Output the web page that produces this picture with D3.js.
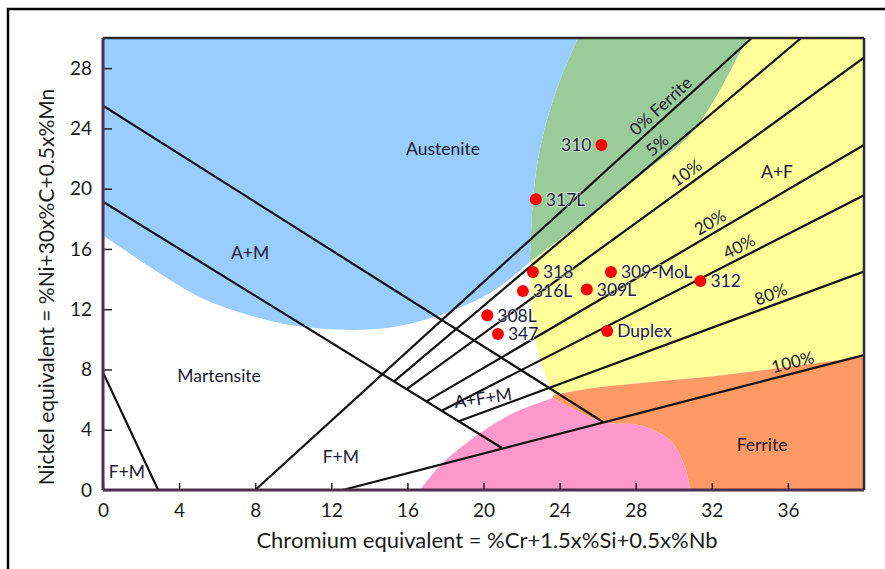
<!DOCTYPE html>
<html>
<head>
<meta charset="utf-8">
<script src="https://cdn.jsdelivr.net/npm/d3@7"></script>
<style>
  body { margin: 0; background: #fff; }
  text { font-family: Lato, "Open Sans", sans-serif; }
</style>
</head>
<body>
<svg id="chart" width="885" height="569"></svg>
<script>
// ---- Axis ticks ----
const crTicks = [0, 4, 8, 12, 16, 20, 24, 28, 32, 36];
const niTicks = [0, 4, 8, 12, 16, 20, 24, 28];

// ---- Phase field boundaries, [Cr eq, Ni eq] ----
const austeniteLower = [[0, 16.9], [2.47, 14.8], [5.1, 12.8], [7.7, 11.6], [10.35, 10.85], [14.5, 10.7], [17.7, 11.6], [20.5, 13.2], [22.44, 15.13]];
const ferriteZeroEdge = [[22.44, 15.13], [22.6, 19.25], [22.86, 21.9], [23.33, 24.55], [24.02, 27.2], [24.96, 30]];
const duplexEdge = [[22.44, 15.13], [24.28, 16.92], [26.64, 19.24], [28.74, 21.37], [30.85, 23.56], [32.43, 26.55], [33.85, 30]];
const afLeftEdge = [[22.44, 15.13], [22.5, 12.5], [22.7, 10.0], [23.1, 8.2], [23.65, 6.3]];
const ferriteTop = [[23.65, 6.3], [26.0, 6.8], [32.4, 7.6], [40, 8.85]];
const fmTop = [[16.66, 0], [17.7, 1.6], [19.3, 3.3], [21.4, 5.0], [23.65, 6.1]];
const fmRight = [[23.65, 6.1], [26.3, 4.5], [28.2, 4.3], [29.8, 3.3], [30.6, 1.5], [30.85, 0]];

// ---- Straight boundary lines ----
const upperAM = [[0, 25.5], [26.3, 4.5]];
const lowerAM = [[0, 19.13], [20.97, 2.79]];
const cornerFM = [[0, 7.8], [2.9, 0]];

// ---- Ferrite iso-lines ----
const ferriteNames = ["0% Ferrite", "5%", "10%", "20%", "40%", "80%", "100%"];
const ferriteStartCr = [8, 15.3, 15.96, 17.0, 17.8, 18.7, 12.6];
const ferriteStartNi = [0, 7.21, 6.69, 5.88, 5.26, 4.56, 0];
const ferriteEndCr = [34.1, 36.7, 40, 40, 40, 40, 40];
const ferriteEndNi = [30, 30, 28.7, 22.9, 19.57, 14.5, 8.96];
const ferriteLabelCr = [29.7, 29.5, 31.0, 32.2, 33.7, 35.3, 36.4];

// ---- Filler metals ----
const alloyNames = ["310", "317L", "318", "316L", "309L", "309-MoL", "308L", "347", "Duplex", "312"];
const alloyCr = [26.2, 22.75, 22.6, 22.07, 25.43, 26.7, 20.2, 20.76, 26.5, 31.4];
const alloyNi = [22.9, 19.3, 14.47, 13.2, 13.3, 14.47, 11.6, 10.35, 10.55, 13.87];
const alloyLabelSide = ["left", "right", "right", "right", "right", "right", "right", "right", "right", "right"];

// ---- Field names ----
const fieldNames = ["Austenite", "A+M", "Martensite", "F+M", "F+M", "A+F+M", "A+F", "Ferrite"];
const fieldCr = [17.87, 7.73, 6.1, 1.26, 12.5, 19.97, 35.43, 34.64];
const fieldNi = [22.63, 15.73, 7.56, 1.2, 2.2, 6.1, 21.1, 2.99];

const svg = d3.select("#chart");
const x = d3.scaleLinear().domain([0, 40]).range([103, 864]);
const y = d3.scaleLinear().domain([0, 30]).range([490, 38]);

svg.append("defs").append("clipPath").attr("id", "plotClip")
  .append("rect").attr("x", x(0)).attr("y", y(30)).attr("width", x(40) - x(0)).attr("height", y(0) - y(30));

const plot = svg.append("g").attr("clip-path", "url(#plotClip)");

const straight = d3.line().x(d => x(d[0])).y(d => y(d[1]));
const smooth = d3.line().x(d => x(d[0])).y(d => y(d[1])).curve(d3.curveCatmullRom.alpha(0.5));

// joins straight and curved pieces into one closed outline
function outline(parts) {
  let s = "";
  parts.forEach((p, i) => {
    const gen = p.curved ? smooth : straight;
    let seg = gen(p.pts);
    if (i > 0) seg = "L" + seg.slice(1);
    s += seg;
  });
  return s + "Z";
}
const rev = a => a.slice().reverse();

// A+F field
plot.append("path").attr("fill", "#ffff99").attr("d", outline([
  { pts: afLeftEdge, curved: true },
  { pts: ferriteTop, curved: true },
  { pts: [[40, 8.85], [40, 30], [33.85, 30]], curved: false },
  { pts: rev(duplexEdge), curved: true }
]));
// A (ferrite-free) band
plot.append("path").attr("fill", "#99cc99").attr("d", outline([
  { pts: ferriteZeroEdge, curved: true },
  { pts: [[24.96, 30], [33.85, 30]], curved: false },
  { pts: rev(duplexEdge), curved: true }
]));
// Austenite
plot.append("path").attr("fill", "#99ccff").attr("d", outline([
  { pts: [[0, 30], [24.96, 30]], curved: false },
  { pts: rev(ferriteZeroEdge), curved: true },
  { pts: rev(austeniteLower), curved: true }
]));
// Ferrite
plot.append("path").attr("fill", "#ff9966").attr("d", outline([
  { pts: ferriteTop, curved: true },
  { pts: [[40, 8.85], [40, 0], [30.85, 0]], curved: false },
  { pts: rev(fmRight), curved: true }
]));
// F+M
plot.append("path").attr("fill", "#ff99cc").attr("d", outline([
  { pts: fmTop, curved: true },
  { pts: fmRight, curved: true },
  { pts: [[30.85, 0], [16.66, 0]], curved: false }
]));

// boundary lines
const lineStyle = sel => sel.attr("fill", "none").attr("stroke", "#111").attr("stroke-width", 2.2);
[upperAM, lowerAM, cornerFM].forEach(l => plot.append("path").attr("d", straight(l)).call(lineStyle));
ferriteNames.forEach((n, i) => {
  plot.append("path").attr("d", straight([[ferriteStartCr[i], ferriteStartNi[i]], [ferriteEndCr[i], ferriteEndNi[i]]])).call(lineStyle);
});

// iso-line labels
ferriteNames.forEach((n, i) => {
  const t = (ferriteLabelCr[i] - ferriteStartCr[i]) / (ferriteEndCr[i] - ferriteStartCr[i]);
  const ni = ferriteStartNi[i] + t * (ferriteEndNi[i] - ferriteStartNi[i]);
  const px = x(ferriteLabelCr[i]), py = y(ni);
  const ang = Math.atan2(y(ferriteEndNi[i]) - y(ferriteStartNi[i]), x(ferriteEndCr[i]) - x(ferriteStartCr[i])) * 180 / Math.PI;
  svg.append("text").attr("transform", `translate(${px},${py}) rotate(${ang})`)
    .attr("y", -5).attr("text-anchor", "middle").attr("font-size", 17).attr("fill", "#1a1a2e")
    .text(n);
});

// field names
fieldNames.forEach((n, i) => {
  const t = svg.append("text").attr("x", x(fieldCr[i])).attr("y", y(fieldNi[i])).attr("dy", "0.35em")
    .attr("text-anchor", "middle").attr("font-size", 17.5).attr("fill", "#1a1a2e").text(n);
  if (n === "A+F+M") t.attr("transform", `rotate(-8,${x(fieldCr[i])},${y(fieldNi[i])})`);
});

// filler metal points
alloyNames.forEach((n, i) => {
  svg.append("circle").attr("cx", x(alloyCr[i])).attr("cy", y(alloyNi[i])).attr("r", 6).attr("fill", "#ff0000");
  const left = alloyLabelSide[i] === "left";
  svg.append("text").attr("x", x(alloyCr[i]) + (left ? -10 : 10)).attr("y", y(alloyNi[i])).attr("dy", "0.36em")
    .attr("text-anchor", left ? "end" : "start").attr("font-size", 17.5).attr("fill", "#1c1c3a")
    .attr("stroke", "#ffffff").attr("stroke-opacity", 0.55).attr("stroke-width", 2).attr("paint-order", "stroke")
    .text(n);
});

// axes
const xAxis = svg.append("g").attr("transform", `translate(0,${y(0)})`)
  .call(d3.axisBottom(x).tickValues(crTicks).tickSize(-7).tickPadding(14));
const yAxis = svg.append("g").attr("transform", `translate(${x(0)},0)`)
  .call(d3.axisLeft(y).tickValues(niTicks).tickSize(-9).tickPadding(11));
[xAxis, yAxis].forEach(a => {
  a.select(".domain").remove();
  a.selectAll(".tick line").attr("stroke", "#222").attr("stroke-width", 1.5);
  a.selectAll(".tick text").attr("font-size", 19).attr("fill", "#1a1a1a").attr("font-family", "Lato, 'Open Sans', sans-serif");
});

// plot frame
svg.append("line").attr("x1", x(0)).attr("x2", x(40)).attr("y1", y(30)).attr("y2", y(30)).attr("stroke", "#2a2a2a").attr("stroke-width", 2.5);
svg.append("line").attr("x1", x(40)).attr("x2", x(40)).attr("y1", y(30)).attr("y2", y(0)).attr("stroke", "#2a2a2a").attr("stroke-width", 2.5);
svg.append("line").attr("x1", x(0)).attr("x2", x(40)).attr("y1", y(0)).attr("y2", y(0)).attr("stroke", "#4f2f4f").attr("stroke-width", 3);
svg.append("line").attr("x1", x(0)).attr("x2", x(0)).attr("y1", y(30)).attr("y2", y(0)).attr("stroke", "#4f2f4f").attr("stroke-width", 3);

// outer figure border
svg.append("path").attr("d", "M8,569 L8,9 L885,9").attr("fill", "none").attr("stroke", "#000").attr("stroke-width", 2.5);

// axis titles
svg.append("text").attr("x", 487).attr("y", 548).attr("text-anchor", "middle").attr("font-size", 22).attr("fill", "#1a1a1a")
  .text("Chromium equivalent = %Cr+1.5x%Si+0.5x%Nb");
svg.append("text").attr("transform", "translate(54,287) rotate(-90)").attr("text-anchor", "middle").attr("font-size", 21).attr("fill", "#1a1a1a")
  .text("Nickel equivalent = %Ni+30x%C+0.5x%Mn");
</script>
</body>
</html>
